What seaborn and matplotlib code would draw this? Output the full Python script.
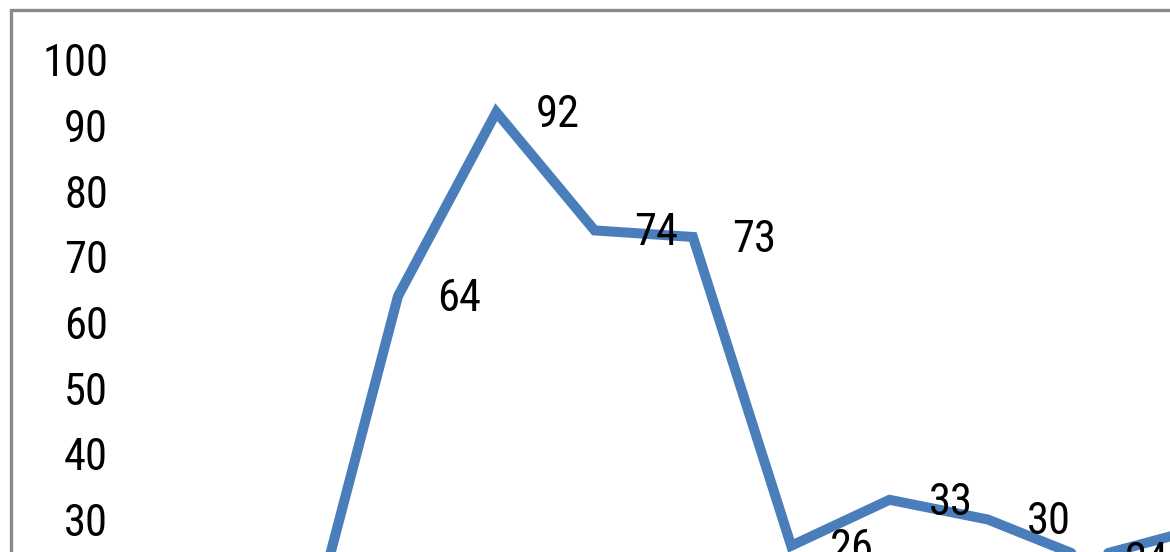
import matplotlib
matplotlib.use('Agg')
import matplotlib.pyplot as plt
from matplotlib import font_manager
from matplotlib.patches import Rectangle
import pandas as pd
import seaborn as sns

# values (first and last points sit outside the crop)
positions = [2, 3, 4, 5, 6, 7, 8, 9, 10, 11]
values = [7, 64, 92, 74, 73, 26, 33, 30, 24, 28]
y_ticks = [0, 10, 20, 30, 40, 50, 60, 70, 80, 90, 100]

sns.set_style('white')


def pick_narrow_font():
    # the original uses a narrow sans face; take the narrowest one installed
    prefs = ['Liberation Sans Narrow', 'Roboto Condensed', 'Open Sans Condensed',
             'Noto Sans', 'Open Sans', 'Roboto', 'DejaVu Sans']
    found = []
    for f in font_manager.fontManager.ttflist:
        narrow = ('Narrow' in f.name or 'Condensed' in f.name
                  or str(f.stretch) in ('condensed', 'semi-condensed', 'extra-condensed', '300', '400'))
        if narrow and f.style == 'normal' and str(f.weight) in ('400', 'normal', 'regular'):
            rank = next((i for i, p in enumerate(prefs) if f.name.startswith(p)), len(prefs))
            found.append((rank, f.fname))
    if found:
        found.sort()
        return font_manager.FontProperties(fname=found[0][1])
    return font_manager.FontProperties(family='Liberation Sans')


fp = pick_narrow_font()
print('font:', fp.get_file())
plt.rcParams['font.family'] = ['Liberation Sans', 'DejaVu Sans']

W, H = 1170, 552
fig = plt.figure(figsize=(W / 100, H / 100), dpi=100)
fig.patch.set_facecolor('white')

# pixel mapping of the original chart
px_per_unit = 6.57
zero_px = 716.6
x_step = 98.3
x_ref_px, x_ref_idx = 398, 3

ax_left_px, ax_right_px = 140, 1300
ymax = 105
top_px = zero_px - ymax * px_per_unit
ax = fig.add_axes([ax_left_px / W, 1 - zero_px / H,
                   (ax_right_px - ax_left_px) / W, (zero_px - top_px) / H])
ax.set_xlim(x_ref_idx + (ax_left_px - x_ref_px) / x_step,
            x_ref_idx + (ax_right_px - x_ref_px) / x_step)
ax.set_ylim(0, ymax)

df = pd.DataFrame({'x': positions, 'y': values})
sns.lineplot(data=df, x='x', y='y', ax=ax, color='#4a7ebb', linewidth=7.2,
             solid_joinstyle='miter')

for x, y in zip(positions[1:], values[1:]):
    ax.annotate(str(y), (x, y), xytext=(44, -2), textcoords='offset points',
                ha='center', va='center', fontproperties=fp, fontsize=32, color='black')

ax.set_yticks(y_ticks)
ax.set_yticklabels([str(t) for t in y_ticks])
ax.tick_params(axis='y', length=0, pad=23)
for lab in ax.get_yticklabels():
    lab.set_fontproperties(fp)
    lab.set_fontsize(32)
    lab.set_color('black')
ax.set_xticks([])
ax.set_xlabel('')
ax.set_ylabel('')
for s in ax.spines.values():
    s.set_visible(False)

# chart frame (continues past the right and bottom edges)
fig.patches.append(Rectangle((10.5 / W, -1), 2, 2 - 9.5 / H, transform=fig.transFigure,
                             fill=False, edgecolor='#8a8a8a', linewidth=2.4))

fig.savefig('out.png', dpi=100)
